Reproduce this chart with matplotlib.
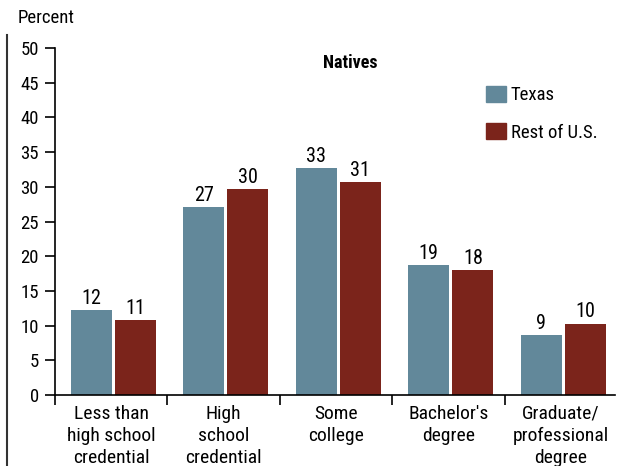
import matplotlib
matplotlib.use("Agg")
import matplotlib.pyplot as plt
from matplotlib.lines import Line2D
from matplotlib.patches import Patch
import numpy as np

categories = ["Less than\nhigh school\ncredential", "High\nschool\ncredential",
              "Some\ncollege", "Bachelor's\ndegree", "Graduate/\nprofessional\ndegree"]
texas = [12.2, 27.1, 32.7, 18.7, 8.7]
rest_us = [10.8, 29.7, 30.7, 18.0, 10.3]
series_names = ["Texas", "Rest of U.S."]
y_ticks = [0, 5, 10, 15, 20, 25, 30, 35, 40, 45, 50]

c_tx = "#62889a"
c_us = "#7b241b"

plt.rcParams["font.family"] = ["Roboto Condensed", "Archivo Narrow", "DejaVu Sans"]

W, H = 621, 466
fig = plt.figure(figsize=(W / 100, H / 100), dpi=100)
ax = fig.add_axes([55 / W, 1 - 395 / H, 560 / W, 347 / H])

x = np.arange(len(categories)) + 0.02
w = 0.364
off = 0.196
b1 = ax.bar(x - off, texas, w, color=c_tx)
b2 = ax.bar(x + off, rest_us, w, color=c_us)

for bars, vals in ((b1, texas), (b2, rest_us)):
    for b, v in zip(bars, vals):
        ax.text(b.get_x() + b.get_width() / 2, v + 0.3, f"{v:.0f}",
                ha="center", va="bottom", fontsize=14.5)

ax.set_xlim(-0.5, len(categories) - 0.5 - 0.02)
ax.set_ylim(0, 50)
ax.set_yticks(y_ticks)
ax.tick_params(axis="y", length=7.5, width=1.2, labelsize=13.5, pad=4)

# category boundary ticks on the x axis
ax.set_xticks(np.arange(len(categories)) - 0.5)
ax.set_xticklabels([])
ax.tick_params(axis="x", length=7, width=1.2, direction="out")
for i, c in enumerate(categories):
    ax.text(i, -1.4, c, ha="center", va="top", fontsize=14, linespacing=1.28)

for s in ("top", "right"):
    ax.spines[s].set_visible(False)
ax.spines["left"].set_linewidth(1.2)
ax.spines["bottom"].set_linewidth(1.2)

fig.text(18 / W, 1 - 18 / H, "Percent", fontsize=13.5, ha="left", va="center")
fig.text(350 / W, 1 - 63 / H, "Natives", fontsize=13, fontweight="bold",
         ha="center", va="center")

# legend
handles = [Patch(color=c_tx), Patch(color=c_us)]
ax.legend(handles, series_names, loc="upper left", bbox_to_anchor=(0.74, 0.94),
          frameon=False, fontsize=13.5, handlelength=1.05, handleheight=0.95,
          labelspacing=1.0, handletextpad=0.25)

# left border rule
fig.add_artist(Line2D([7 / W, 7 / W], [0, 1 - 35 / H], color="#333333", lw=1.5))

fig.savefig("out.png", dpi=100)
